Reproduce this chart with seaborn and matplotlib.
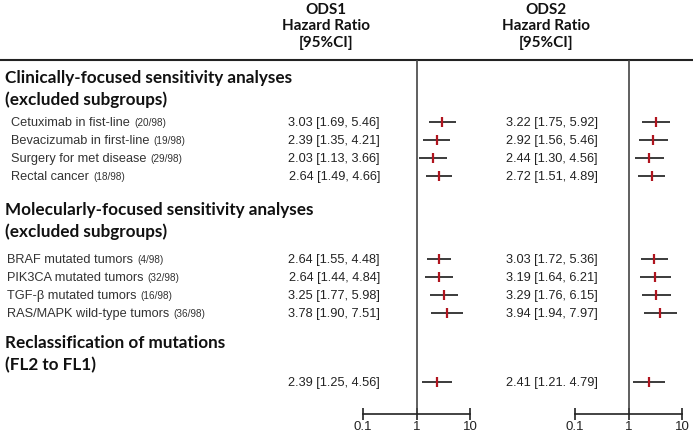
import pandas as pd
import matplotlib.pyplot as plt
import seaborn as sns

# --- data ---
sections = ["Clinically-focused sensitivity analyses\n(excluded subgroups)",
            "Molecularly-focused sensitivity analyses\n(excluded subgroups)",
            "Reclassification of mutations\n(FL2 to FL1)"]
section_of_row = [0, 0, 0, 0, 1, 1, 1, 1, 2]
labels = ["Cetuximab in fist-line", "Bevacizumab in first-line", "Surgery for met disease",
          "Rectal cancer", "BRAF mutated tumors", "PIK3CA mutated tumors",
          "TGF-β mutated tumors", "RAS/MAPK wild-type tumors", ""]
counts = ["(20/98)", "(19/98)", "(29/98)", "(18/98)", "(4/98)", "(32/98)", "(16/98)", "(36/98)", ""]
ods1_hr = [3.03, 2.39, 2.03, 2.64, 2.64, 2.64, 3.25, 3.78, 2.39]
ods1_lo = [1.69, 1.35, 1.13, 1.49, 1.55, 1.44, 1.77, 1.90, 1.25]
ods1_hi = [5.46, 4.21, 3.66, 4.66, 4.48, 4.84, 5.98, 7.51, 4.56]
ods2_hr = [3.22, 2.92, 2.44, 2.72, 3.03, 3.19, 3.29, 3.94, 2.41]
ods2_lo = [1.75, 1.56, 1.30, 1.51, 1.72, 1.64, 1.76, 1.94, 1.21]
ods2_hi = [5.92, 5.46, 4.56, 4.89, 5.36, 6.21, 6.15, 7.97, 4.79]
ods2_sep = [", "] * 8 + [". "]   # the last row is printed "1.21. 4.79" in the original
col_titles = ["ODS1\nHazard Ratio\n[95%CI]", "ODS2\nHazard Ratio\n[95%CI]"]
ticks = [0.1, 1, 10]
tick_labels = ["0.1", "1", "10"]

# --- layout (pixels) ---
W, H = 693, 435
TOP_RULE, AXIS_Y = 61, 415
RED = "#b0141e"
head_to_item = [45, 50, 40]
after_section = [33, 29, 0]
indent = [11, 7, 7]

y = 78
header_y, row_y = [], []
for s in range(len(sections)):
    header_y.append(y)
    y += head_to_item[s]
    for _ in range(section_of_row.count(s)):
        row_y.append(y)
        y += 18
    y += after_section[s] - 18

df = pd.DataFrame({"label": labels, "count": counts, "sec": section_of_row, "y": row_y,
                   "hr1": ods1_hr, "lo1": ods1_lo, "hi1": ods1_hi,
                   "hr2": ods2_hr, "lo2": ods2_lo, "hi2": ods2_hi, "sep2": ods2_sep})

sns.set_theme(style="white")
plt.rcParams["font.family"] = ["Liberation Sans", "DejaVu Sans"]

fig = plt.figure(figsize=(W / 100, H / 100), dpi=100)
bg = fig.add_axes([0, 0, 1, 1])
bg.set_xlim(0, W)
bg.set_ylim(H, 0)
bg.axis("off")
bg.plot([0, W], [TOP_RULE, TOP_RULE], color="#222222", lw=1.5)

head_font = dict(family=["Lato", "DejaVu Sans"], weight="bold", color="#111111")

# column titles
for title, cx in zip(col_titles, [326, 546]):
    for k, line in enumerate(title.split("\n")):
        bg.text(cx, 10 + 16.5 * k, line, ha="center", va="center", fontsize=11, **head_font)

# section headers
for s, title in enumerate(sections):
    for k, line in enumerate(title.split("\n")):
        bg.text(5, header_y[s] + 22 * k, line, ha="left", va="center", fontsize=12.3, **head_font)

# row labels and values
for _, r in df.iterrows():
    if r["label"]:
        t = bg.text(indent[r["sec"]], r["y"], r["label"], ha="left", va="center",
                    fontsize=9.2, color="#333333")
        bg.annotate(r["count"], xy=(1, 0.12), xycoords=t, xytext=(3, 0),
                    textcoords="offset points", ha="left", va="bottom",
                    fontsize=7.2, color="#333333")
    bg.text(380, r["y"], f"{r['hr1']:.2f} [{r['lo1']:.2f}, {r['hi1']:.2f}]",
            ha="right", va="center", fontsize=9.2, color="#222222")
    bg.text(598, r["y"], f"{r['hr2']:.2f} [{r['lo2']:.2f}{r['sep2']}{r['hi2']:.2f}]",
            ha="right", va="center", fontsize=9.2, color="#222222")

# forest panels
for left, k in [(363, "1"), (575, "2")]:
    ax = fig.add_axes([left / W, (H - AXIS_Y) / H, 107 / W, (AXIS_Y - TOP_RULE) / H])
    ax.patch.set_alpha(0)
    ax.set_xscale("log")
    ax.axvline(1, color="#444444", lw=1.2, zorder=1)
    ax.hlines(df["y"], df["lo" + k], df["hi" + k], color="#1a1a1a", lw=1.2, zorder=2)
    sns.scatterplot(data=df, x="hr" + k, y="y", marker="|", s=55, linewidth=1.6,
                    color=RED, ax=ax, legend=False, zorder=3)
    ax.set_xlim(0.1, 10)
    ax.set_ylim(AXIS_Y, TOP_RULE)
    ax.set_xlabel("")
    ax.set_ylabel("")
    ax.set_yticks([])
    for side in ["top", "right", "left"]:
        ax.spines[side].set_visible(False)
    ax.spines["bottom"].set_color("#222222")
    ax.spines["bottom"].set_linewidth(1.2)
    ax.set_xticks(ticks)
    ax.set_xticklabels(tick_labels)
    ax.minorticks_off()
    ax.tick_params(axis="x", direction="inout", length=8, width=1.2, color="#222222",
                   labelsize=9.5, labelcolor="#222222", pad=0, bottom=True)

fig.savefig("out.png", dpi=100)
